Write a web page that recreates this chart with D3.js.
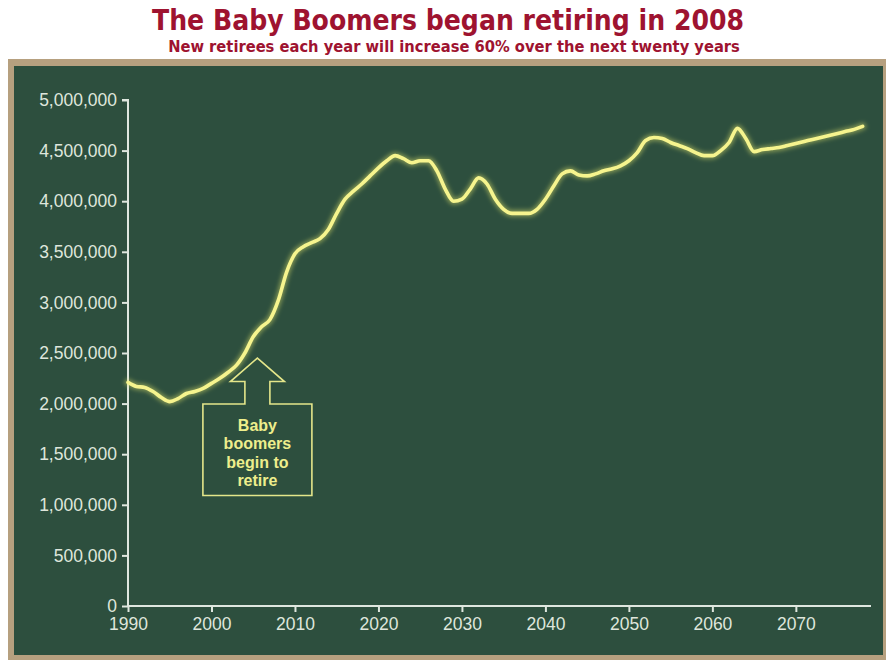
<!DOCTYPE html>
<html><head><meta charset="utf-8">
<script src="https://cdn.jsdelivr.net/npm/d3@7/dist/d3.min.js"></script>
<style>html,body{margin:0;padding:0;background:#fff;}svg{display:block;}</style>
</head><body>
<svg id="chart" width="886" height="660"></svg>
<script>
// ---- data ----
const years = d3.range(1990, 2079);
const retirees = [
  2210000, 2170000, 2160000, 2120000, 2060000, 2020000, 2050000, 2100000, 2120000, 2150000,
  2200000, 2250000, 2310000, 2380000, 2500000, 2660000, 2760000, 2830000, 3020000, 3300000,
  3480000, 3550000, 3590000, 3630000, 3720000, 3880000, 4020000, 4100000, 4170000, 4250000,
  4330000, 4400000, 4450000, 4420000, 4380000, 4400000, 4400000, 4300000, 4120000, 4000000,
  4020000, 4120000, 4230000, 4170000, 4020000, 3920000, 3880000, 3880000, 3880000, 3920000,
  4020000, 4150000, 4270000, 4300000, 4260000, 4250000, 4270000, 4300000, 4320000, 4350000,
  4400000, 4480000, 4600000, 4630000, 4620000, 4580000, 4550000, 4520000, 4480000, 4450000,
  4450000, 4500000, 4580000, 4720000, 4620000, 4490000, 4510000, 4520000, 4530000, 4550000,
  4570000, 4590000, 4610000, 4630000, 4650000, 4670000, 4690000, 4710000, 4740000
];
const xTicks = [1990, 2000, 2010, 2020, 2030, 2040, 2050, 2060, 2070];
const yTicks = [0, 500000, 1000000, 1500000, 2000000, 2500000, 3000000, 3500000, 4000000, 4500000, 5000000];
const titleText = "The Baby Boomers began retiring in 2008";
const subtitleText = "New retirees each year will increase 60% over the next twenty years";
const noteLines = ["Baby", "boomers", "begin to", "retire"];
const noteAnchor = {year: 2005.5, value: 2450000}; // arrow tip

const svg = d3.select("#chart");
const W = 886, H = 660;

// frame
svg.append("rect").attr("x", 8).attr("y", 59).attr("width", W - 8).attr("height", H - 59).attr("fill", "#b6a07f");
svg.append("rect").attr("x", 14).attr("y", 66).attr("width", 869).attr("height", 589).attr("fill", "#2d4f3e");

// titles
function fit(sel, target) {
  const len = sel.node().getComputedTextLength();
  const fs = parseFloat(sel.attr("font-size"));
  sel.attr("font-size", (fs * target / len).toFixed(2));
}
const titleFont = "'DejaVu Sans Condensed', 'DejaVu Sans', Verdana, sans-serif";
const title = svg.append("text").attr("x", 448).attr("y", 30).attr("text-anchor", "middle")
  .attr("font-family", titleFont).attr("font-weight", "bold")
  .attr("font-size", 28).attr("fill", "#9e1330").text(titleText);
fit(title, 592);
const sub = svg.append("text").attr("x", 454).attr("y", 52).attr("text-anchor", "middle")
  .attr("font-family", titleFont).attr("font-weight", "bold")
  .attr("font-size", 14).attr("fill", "#9e1330").text(subtitleText);
fit(sub, 572);

// scales
const x = d3.scaleLinear().domain([1990, 2079]).range([128, 871]);
const y = d3.scaleLinear().domain([0, 5000000]).range([606, 100]);

const axisColor = "#dfe7df";
const labelColor = "#dfe6dc";

const gx = svg.append("g").attr("transform", `translate(0,${y(0)})`)
  .call(d3.axisBottom(x).tickValues(xTicks).tickFormat(d3.format("d")).tickSize(6).tickPadding(6));
const gy = svg.append("g").attr("transform", `translate(${x(1990)},0)`)
  .call(d3.axisLeft(y).tickValues(yTicks).tickFormat(d3.format(",")).tickSize(6).tickPadding(5));
[gx, gy].forEach(g => {
  g.select(".domain").attr("stroke", axisColor).attr("stroke-width", 2);
  g.selectAll(".tick line").attr("stroke", axisColor).attr("stroke-width", 2);
  g.selectAll(".tick text").attr("fill", labelColor)
    .attr("font-family", "'Liberation Sans', Arial, sans-serif").attr("font-size", 17.5);
});
gx.select(".domain").attr("d", `M${x(1990)},0H${x(2079)}`);
gy.select(".domain").attr("d", `M0,${y(0)}V${y(5000000)}H-6`);

// glow filter
const defs = svg.append("defs");
const f = defs.append("filter").attr("id", "glow").attr("x", "-5%").attr("y", "-20%").attr("width", "110%").attr("height", "140%");
f.append("feGaussianBlur").attr("stdDeviation", 2.2);

const data = years.map((yr, i) => ({yr, v: retirees[i]}));
const line = d3.line().x(d => x(d.yr)).y(d => y(d.v)).curve(d3.curveMonotoneX);

svg.append("path").datum(data).attr("d", line).attr("fill", "none")
  .attr("stroke", "#e6e86a").attr("stroke-width", 7).attr("stroke-opacity", 0.45)
  .attr("stroke-linejoin", "round").attr("stroke-linecap", "round").attr("filter", "url(#glow)");
svg.append("path").datum(data).attr("d", line).attr("fill", "none")
  .attr("stroke", "#f6f48e").attr("stroke-width", 3.6)
  .attr("stroke-linejoin", "round").attr("stroke-linecap", "round");

// annotation arrow box
const tipX = x(noteAnchor.year), tipY = y(noteAnchor.value);
const headHalf = 27, stemHalf = 12.5, headH = 23.5, stemH = 22.5, boxHalf = 54.5, boxH = 91.5;
const pts = [
  [tipX, tipY],
  [tipX + headHalf, tipY + headH],
  [tipX + stemHalf, tipY + headH],
  [tipX + stemHalf, tipY + headH + stemH],
  [tipX + boxHalf, tipY + headH + stemH],
  [tipX + boxHalf, tipY + headH + stemH + boxH],
  [tipX - boxHalf, tipY + headH + stemH + boxH],
  [tipX - boxHalf, tipY + headH + stemH],
  [tipX - stemHalf, tipY + headH + stemH],
  [tipX - stemHalf, tipY + headH],
  [tipX - headHalf, tipY + headH]
];
svg.append("path").attr("d", "M" + pts.map(p => p.join(",")).join("L") + "Z")
  .attr("fill", "none").attr("stroke", "#e4e68a").attr("stroke-width", 1.6);

const boxTop = tipY + headH + stemH;
svg.append("g").selectAll("text").data(noteLines).join("text")
  .attr("x", tipX).attr("y", (d, i) => boxTop + 27 + i * 18.3)
  .attr("text-anchor", "middle")
  .attr("font-family", "'Liberation Sans', Arial, sans-serif").attr("font-weight", "bold")
  .attr("font-size", 16).attr("fill", "#eeee8c").text(d => d);
</script>
</body></html>
